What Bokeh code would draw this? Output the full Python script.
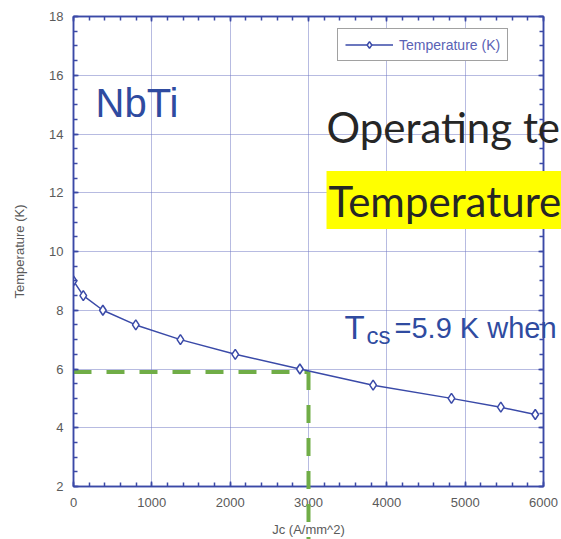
from bokeh.plotting import figure
from bokeh.models import (Range1d, LinearAxis, SingleIntervalTicker, Legend, LegendItem,
                          CustomJSTickFormatter)
from bokeh.core.properties import value
from bokeh.embed import file_html
from bokeh.resources import INLINE

# Critical current density (A/mm^2) vs current-sharing temperature (K) for NbTi
jc = [0, 125, 375, 795, 1365, 2065, 2890, 3825, 4825, 5455, 5895]
temperature = [9.0, 8.5, 8.0, 7.5, 7.0, 6.5, 6.0, 5.45, 5.0, 4.7, 4.45]

# Operating point marked with the dashed guide
jc_op = 3000
t_cs = 5.9

series_name = "Temperature (K)"
x_title = "Jc (A/mm^2)"
y_title = "Temperature (K)"

BLUE = "#3a4aa8"
AXIS = "#3b49a6"
GRID = "#6f77c2"
GREEN = "#70ad47"
TICK_TXT = "#5a5a5a"
NOTE_BLUE = "#2f4ba0"

p = figure(width=561, height=539, output_backend="svg", toolbar_location=None,
           x_range=Range1d(0, 6000), y_range=Range1d(2, 18),
           min_border_left=73, min_border_right=18, min_border_top=16, min_border_bottom=52,
           x_axis_label=x_title, y_axis_label=y_title)
p.background_fill_color = "white"
p.border_fill_color = "white"
p.outline_line_color = AXIS
p.outline_line_width = 1.5

# axes with inward ticks
p.xaxis.ticker = SingleIntervalTicker(interval=1000, num_minor_ticks=5)
p.yaxis.ticker = SingleIntervalTicker(interval=2, num_minor_ticks=4)
for ax in (p.xaxis[0], p.yaxis[0]):
    ax.axis_line_color = AXIS
    ax.axis_line_width = 1.5
    ax.major_tick_line_color = AXIS
    ax.minor_tick_line_color = AXIS
    ax.major_tick_line_width = 1.5
    ax.minor_tick_line_width = 1.5
    ax.major_tick_in = 5
    ax.major_tick_out = 0
    ax.minor_tick_in = 4
    ax.minor_tick_out = 0
    ax.major_label_text_font = "Liberation Sans"
    ax.major_label_text_font_size = "13px"
    ax.major_label_text_color = TICK_TXT
    ax.axis_label_text_font = "Liberation Sans"
    ax.axis_label_text_font_size = "13px"
    ax.axis_label_text_font_style = "normal"
    ax.axis_label_text_color = TICK_TXT
p.xaxis.major_label_standoff = 11
p.xaxis.axis_label_standoff = 12
p.yaxis.major_label_standoff = 10
p.yaxis.axis_label_standoff = 19

# mirrored axes on top and right: ticks only, no labels
blank = CustomJSTickFormatter(code="return ''")
for side, ticker in (("above", SingleIntervalTicker(interval=1000, num_minor_ticks=5)),
                     ("right", SingleIntervalTicker(interval=2, num_minor_ticks=4))):
    ax = LinearAxis(ticker=ticker, formatter=blank, axis_line_color=AXIS, axis_line_width=1.5,
                    major_tick_line_color=AXIS, minor_tick_line_color=AXIS,
                    major_tick_line_width=1.5, minor_tick_line_width=1.5,
                    major_tick_in=5, major_tick_out=0, minor_tick_in=4, minor_tick_out=0,
                    major_label_standoff=0)
    p.add_layout(ax, side)

# dotted grid at major ticks
p.grid.grid_line_color = GRID
p.grid.grid_line_dash = "1 1"
p.grid.grid_line_width = 1

# dashed guide: horizontal at T_cs up to the operating Jc, then straight down past the axis
p.line([0, jc_op], [t_cs, t_cs], line_color=GREEN, line_width=4, line_dash="18 15")
p.line([jc_op, jc_op], [t_cs, 0], line_color=GREEN, line_width=4, line_dash="18 15",
       level="overlay")

# data series
line_r = p.line(jc, temperature, line_color=BLUE, line_width=1.5)
pts_r = p.scatter(jc, temperature, marker="diamond", size=10, line_color=BLUE,
                  line_width=1.5, fill_color="white")

legend = Legend(items=[LegendItem(label=series_name, renderers=[line_r, pts_r])],
                location=(264, 425), padding=7, margin=0, spacing=0,
                glyph_width=48, glyph_height=17, label_standoff=6,
                label_text_font="Liberation Sans", label_text_font_size="14px",
                label_text_color="#5a62b5", border_line_color="#444444",
                border_line_width=1.5, background_fill_color="white", background_fill_alpha=1)
p.add_layout(legend, "center")

# slide annotations (drawn on the overlay level so they run to the page edge)
def note(x, y, text, font, size, color, **kw):
    p.text([x], [y], text=[text], text_font=value(font), text_font_size=size,
           text_color=color, text_baseline="alphabetic", text_align="left",
           level="overlay", **kw)

note(281, 15.04, "NbTi", "Liberation Sans", "40px", NOTE_BLUE)
note(3230, 14.23, "Operating te", "Lato", "42px", "#262626")
note(3230, 11.75, "Temperature", "Lato", "42px", "#262626",
     background_fill_color="#ffff00", padding=dict(left=2, right=12, top=5, bottom=3))
note(3460, 7.40, "T", "Liberation Sans", "33px", NOTE_BLUE)
note(3740, 7.15, "cs", "Liberation Sans", "24px", NOTE_BLUE)
note(4098, 7.40, "=5.9 K when", "Liberation Sans", "29px", NOTE_BLUE)

open("out.html", "w").write(file_html(p, INLINE))
